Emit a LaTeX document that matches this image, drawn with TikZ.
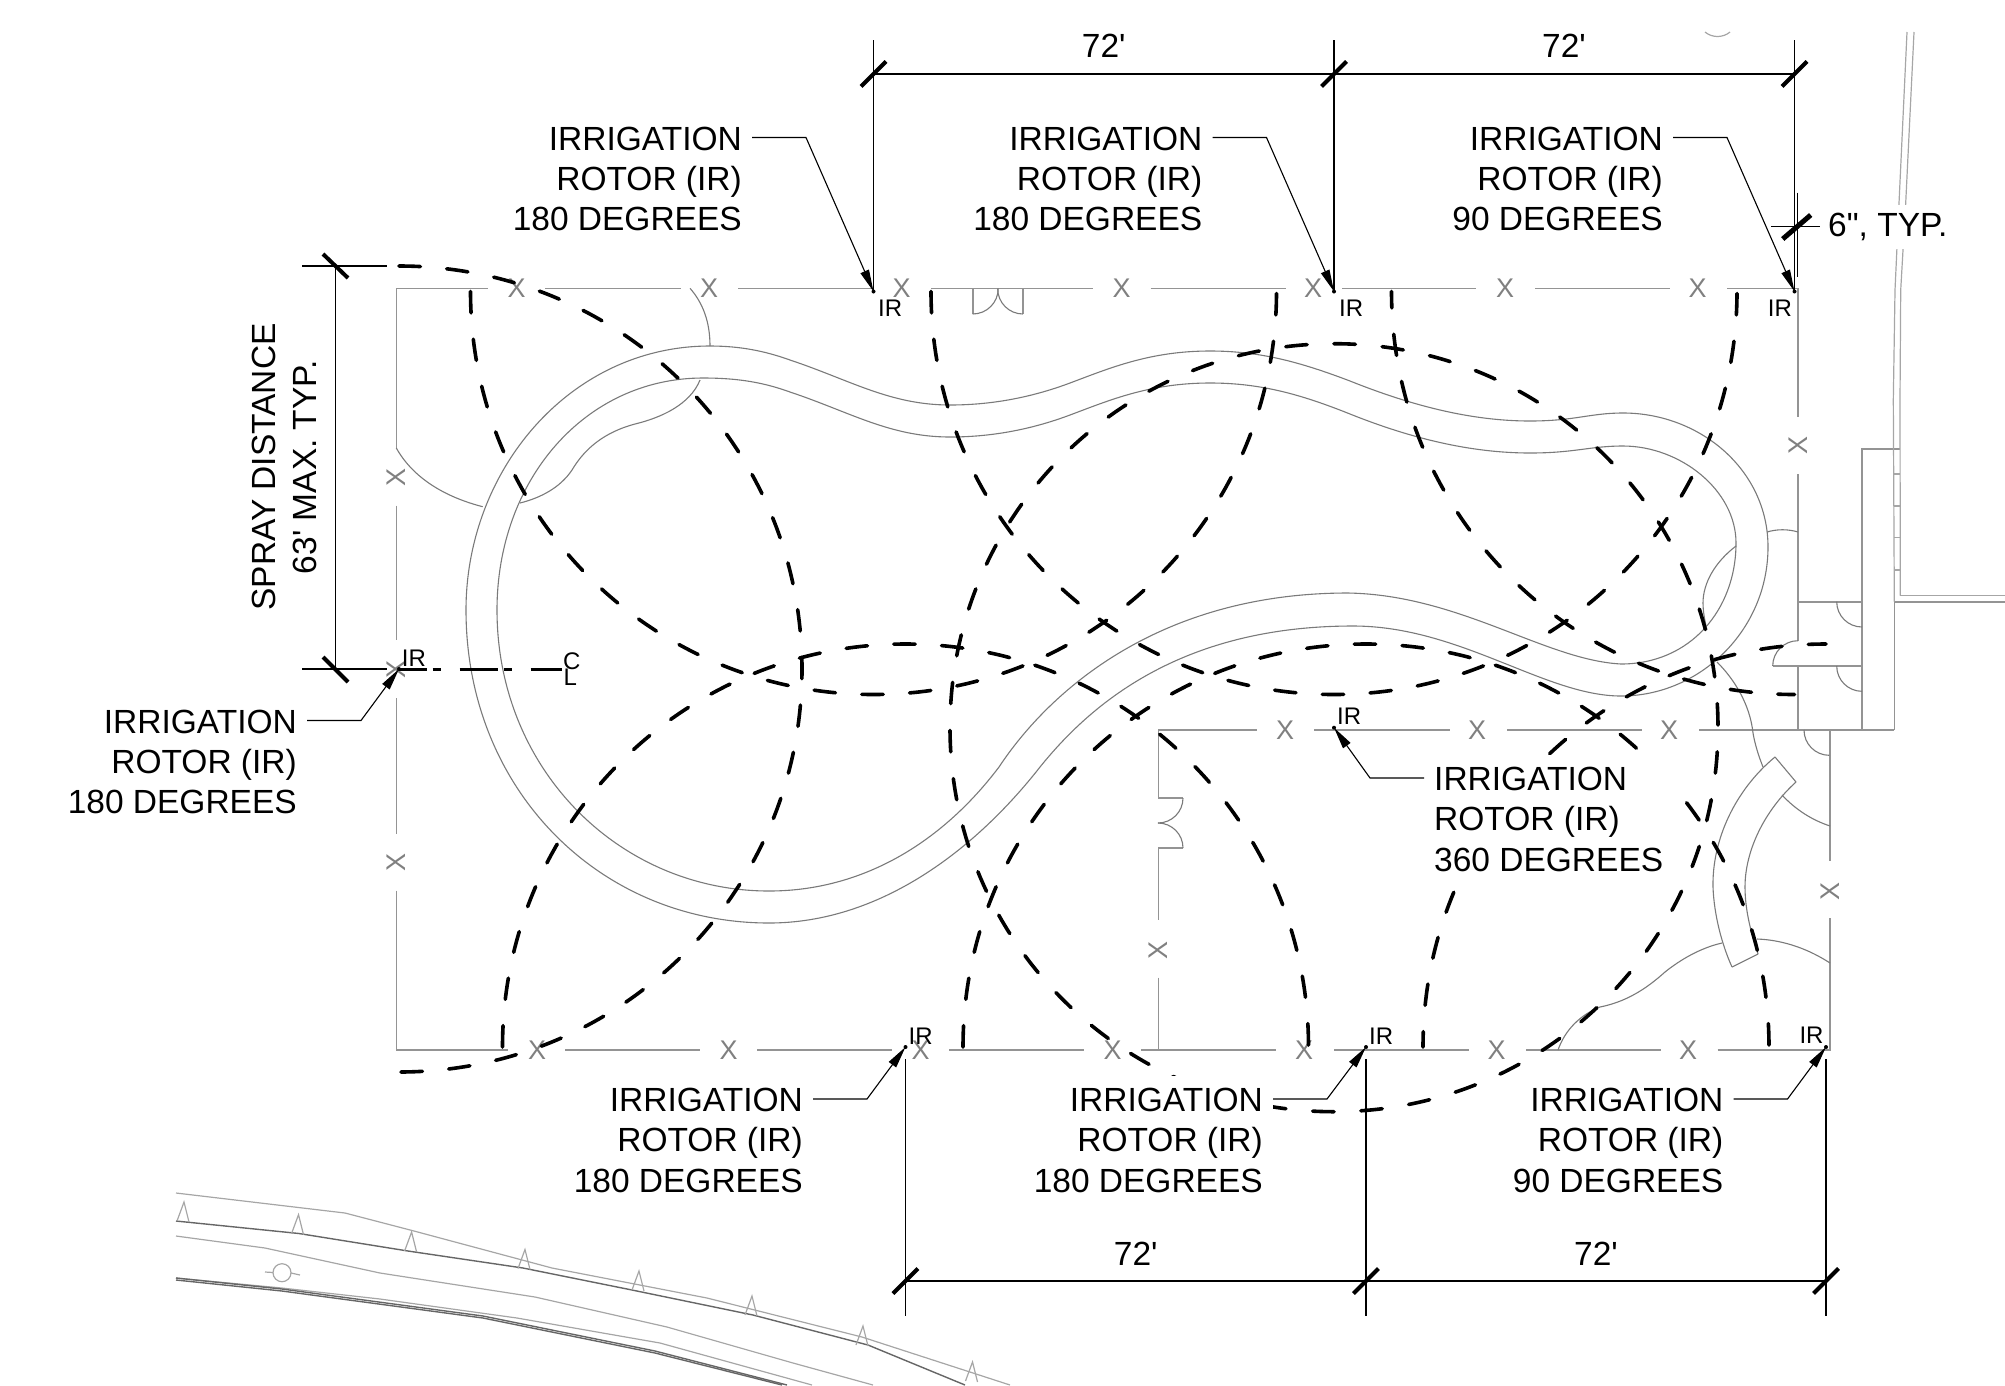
\documentclass[tikz,border=0pt]{standalone}
\usepackage{fontspec}
\setmainfont{Liberation Sans}
\usetikzlibrary{calc,arrows.meta}
\colorlet{colorWall}{black!42}
\colorlet{colorPool}{black!52}
\colorlet{colorRoad}{black!35}
\colorlet{colorFence}{black!50}
\newcommand{\lblfont}{\fontsize{33.5}{40.3}\selectfont}
\tikzset{
   every path/.style={>={Triangle[length=22pt,width=9pt]}},
   wall/.style={color=colorWall,line width=1.6pt},
   thinwall/.style={color=colorPool,line width=1.1pt},
   road/.style={color=colorRoad,line width=1.2pt},
   roaddark/.style={color=black!60,line width=1.4pt},
   fencex/.style={color=colorFence,font=\fontsize{27}{27}\selectfont,inner sep=0pt},
   fencey/.style={fencex,rotate=90},
   spray/.style={line width=3.6pt,line cap=round,dash pattern=on 21.4pt off 26.4pt},
   dimline/.style={line width=1.2pt},
   dimtick/.style={line width=4pt},
   irlabel/.style={font=\lblfont,align=right,fill=white,inner xsep=10pt,inner ysep=12pt,anchor=north east},
   irleader/.style={->,line width=1.1pt},
   irtag/.style={font=\fontsize{24}{24}\selectfont,inner sep=0pt,anchor=base west},
   dimtext/.style={font=\lblfont,inner sep=0pt,anchor=base},
}
\begin{document}
\begin{tikzpicture}[x=1pt,y=1pt,yscale=-1]
  \useasboundingbox (0,0) rectangle (2005,1385);

  \coordinate (irTopA) at (873.5,291.5);
  \coordinate (irTopB) at (1334,291.5);
  \coordinate (irTopC) at (1794.5,291.5);
  \coordinate (irLeft) at (399,669);
  \coordinate (irMid) at (1334,727.7);
  \coordinate (irBotA) at (905.5,1047);
  \coordinate (irBotB) at (1366,1047);
  \coordinate (irBotC) at (1826,1047);

  % site walls
  \draw[wall] (396.3,448) -- (396.3,288.3) -- (488,288.3);
  \draw[wall] (545,288.3) -- (681,288.3);
  \draw[wall] (738,288.3) -- (872,288.3);
  \draw[wall] (931,288.3) -- (1093,288.3);
  \draw[wall] (1150.7,288.3) -- (1285.7,288.3);
  \draw[wall] (1342,288.3) -- (1476,288.3);
  \draw[wall] (1535,288.3) -- (1670,288.3);
  \draw[wall] (1727,288.3) -- (1797.7,288.3) -- (1797.7,416.7);
  \draw[wall] (1797.7,474) -- (1797.7,640.7);
  \draw[wall] (1797.7,666) -- (1797.7,730);
  \draw[wall] (396.3,505.7) -- (396.3,640);
  \draw[wall] (396.3,698) -- (396.3,833.5);
  \draw[wall] (396.3,890.5) -- (396.3,1050) -- (508,1050);
  \draw[wall] (565,1050) -- (700,1050);
  \draw[wall] (757,1050) -- (892,1050);
  \draw[wall] (949,1050) -- (1084,1050);
  \draw[wall] (1141,1050) -- (1276,1050);
  \draw[wall] (1334,1050) -- (1469,1050);
  \draw[wall] (1526,1050) -- (1661,1050);
  \draw[wall] (1717.7,1050) -- (1830,1050) -- (1830,918);
  \draw[wall] (1830,860.7) -- (1830,730);
  \draw[wall] (1158.3,730) -- (1257,730);
  \draw[wall] (1314,730) -- (1450,730);
  \draw[wall] (1507,730) -- (1641.7,730);
  \draw[wall] (1699,730) -- (1894.3,730);
  \draw[wall] (1183,798) -- (1158.3,798) -- (1158.3,730);
  \draw[wall] (1183,848) -- (1158.3,848) -- (1158.3,920);
  \draw[wall] (1158.3,977.7) -- (1158.3,1050);
  \draw[wall] (972.7,288.3) -- (972.7,314);
  \draw[wall] (1023,288.3) -- (1023,314);

  % building at the right
  \draw[wall] (1862,730) -- (1862,448.7) -- (1900.3,448.7);
  \draw[wall] (1894.3,730) -- (1894.3,601.7) -- (2005,601.7);
  \draw[wall] (1798,601.7) -- (1862,601.7);
  \draw[wall] (1772.7,666) -- (1862,666);
  \draw[road] (1900.3,595.7) -- (2005,595.7);
  \foreach \sy in {474,506,537.7,570}
    \draw[road] (1894,\sy) -- (1900,\sy);
  \draw[road] plot coordinates {(1894.3,601.7) (1893.3,400) (1895,290) (1899,203)};
  \draw[road] plot coordinates {(1900.3,595.7) (1900,400) (1900.7,290) (1905.7,203)};
  \draw[road] (1899,203) -- (1907,32);
  \draw[road] (1905.7,203) -- (1914,32);
  \draw[road] (1705,32) .. controls (1712,38) and (1723,38) .. (1730,32);

  % door swings
  \draw[thinwall] (1836.7,601.7) arc[start angle=180,end angle=90,radius=25.3];
  \draw[thinwall] (1836.7,666) arc[start angle=180,end angle=90,radius=25.3];
  \draw[thinwall] (1772.7,666) arc[start angle=180,end angle=270,radius=25.3];
  \draw[thinwall] (1804,730) arc[start angle=180,end angle=90,radius=25.3];
  \draw[thinwall] (1183,798) arc[start angle=0,end angle=90,radius=25];
  \draw[thinwall] (1183,848) arc[start angle=0,end angle=-90,radius=25];
  \draw[thinwall] (972.7,314) arc[start angle=90,end angle=0,radius=25.5];
  \draw[thinwall] (1023,314) arc[start angle=90,end angle=180,radius=25.3];

  % pool
  \draw[thinwall] (710,346) .. controls (570,346) and (466,470) .. (466,610)
    .. controls (466,790) and (600,923) .. (769,923)
    .. controls (880,923) and (975,850) .. (1040,767)
    .. controls (1090,705) and (1180,626) .. (1353,626)
    .. controls (1460,626) and (1545,696) .. (1621,696)
    .. controls (1700,696) and (1768,630) .. (1768,547)
    .. controls (1768,470) and (1700,413) .. (1623,413)
    .. controls (1590,413) and (1575,421) .. (1530,421)
    .. controls (1470,421) and (1410,405) .. (1350,381)
    .. controls (1300,362) and (1260,351) .. (1210,351)
    .. controls (1150,351) and (1110,368) .. (1070,383)
    .. controls (1030,398) and (990,405) .. (950,405)
    .. controls (890,405) and (850,380) .. (790,360)
    .. controls (765,351) and (740,346) .. (710,346);
  \draw[thinwall] (703,378) .. controls (585,378) and (497,480) .. (497,610)
    .. controls (497,770) and (620,891) .. (769,891)
    .. controls (860,891) and (940,845) .. (999,767)
    .. controls (1050,690) and (1160,593) .. (1348,593)
    .. controls (1460,595) and (1545,660) .. (1621,664)
    .. controls (1690,664) and (1736,610) .. (1736,543)
    .. controls (1736,490) and (1680,446) .. (1623,446)
    .. controls (1590,446) and (1575,453) .. (1530,453)
    .. controls (1470,453) and (1410,438) .. (1350,414)
    .. controls (1300,394) and (1260,383) .. (1210,383)
    .. controls (1150,383) and (1110,400) .. (1070,415)
    .. controls (1030,430) and (990,437) .. (950,437)
    .. controls (890,437) and (850,412) .. (790,392)
    .. controls (765,383) and (740,378) .. (703,378);

  % planting beds and paths
  \draw[thinwall] (690,288.3) .. controls (703,303) and (710,322) .. (710,346);
  \draw[thinwall] (396.3,448) .. controls (413,478) and (445,497) .. (482.7,506.7);
  \draw[thinwall] (700,380) .. controls (690,405) and (660,418) .. (635,424)
    .. controls (605,432) and (585,448) .. (572,470)
    .. controls (560,488) and (540,498) .. (520,503);
  \draw[thinwall] (1767,532) .. controls (1777,529) and (1788,529) .. (1798,532);
  \draw[thinwall] (1736,546) .. controls (1715,562) and (1703,583) .. (1703,603) .. controls (1703,612) and (1705,622) .. (1707,630);
  \draw[thinwall] (1717,662) .. controls (1735,680) and (1750,705) .. (1753,733) .. controls (1755,745) and (1759,757) .. (1763,767);
  \draw[thinwall] (1775,757) -- (1796,782);
  \draw[thinwall] (1732,967) -- (1758,954);
  \draw[thinwall] (1775,757) .. controls (1735,790) and (1712,840) .. (1713,887) .. controls (1714,915) and (1722,945) .. (1732,967);
  \draw[thinwall] (1796,782) .. controls (1765,810) and (1745,850) .. (1745,887) .. controls (1745,910) and (1751,933) .. (1758,954);
  \draw[thinwall] (1782,795) .. controls (1796,810) and (1812,820) .. (1830,826);
  \draw[thinwall] (1757,939) .. controls (1785,940) and (1810,950) .. (1830,963);
  \draw[thinwall] (1722,943) .. controls (1700,948) and (1680,960) .. (1665,972)
    .. controls (1645,990) and (1625,1002) .. (1600,1007)
    .. controls (1580,1015) and (1565,1030) .. (1558,1050);

  % road at the bottom
  \draw[road] plot coordinates {(176,1193) (345,1213) (414,1231) (552,1268) (707,1298) (862,1337) (1010,1385)};
  \draw[roaddark] plot coordinates {(176,1221) (299,1233.5) (408,1251) (523,1268) (632,1290) (753,1315) (868,1345) (965,1385)};
  \draw[road] plot coordinates {(176,1236) (265,1248) (380,1273) (535,1297) (667,1327) (793,1363) (873,1385)};
  \draw[road] plot coordinates {(176,1278) (282,1288) (380,1299) (517,1318) (660,1343) (812,1385)};
  \draw[roaddark] plot coordinates {(176,1278) (282,1289) (483,1316) (655,1351) (787,1385)};
  \draw[roaddark] plot coordinates {(176,1280) (282,1291) (483,1318) (655,1353) (782,1385)};
  \foreach \tx/\ty in {183/1221,297.5/1233.7,410.6/1251,524/1268.5,638/1290,751/1315,862/1345,971.5/1381}
    \draw[road] (\tx-6,\ty) -- (\tx+1,\ty-19) -- (\tx+6,\ty+1);
  \draw[road] (282,1272.7) circle (9);
  \draw[road] (265,1272) -- (273,1272.5);
  \draw[road] (291,1273) -- (300,1275);

  % fence marks
  \foreach \px [count=\i] in {516.7,709,901.7,1121.7,1313,1505,1697.7}
    \node[fencex] (xtop\i) at (\px,288.3) {X};
  \foreach \px [count=\i] in {537,728.5,920.5,1112.7,1304,1496.7,1688}
    \node[fencex] (xbot\i) at (\px,1050) {X};
  \foreach \px [count=\i] in {1285,1477,1669}
    \node[fencex] (xmid\i) at (\px,730) {X};
  \node[fencey] (xleftA) at (396.3,477) {X};
  \node[fencey] (xleftB) at (396.3,669) {X};
  \node[fencey] (xleftC) at (396.3,862) {X};
  \node[fencey] (xright) at (1797.7,445.7) {X};
  \node[fencey] (xlow) at (1830,891.7) {X};
  \node[fencey] (xinner) at (1158.3,950) {X};

  % spray arcs
  \draw[spray] (irTopA) ++(180:403) arc[start angle=180,end angle=0,radius=403];
  \draw[spray] (irTopB) ++(180:403) arc[start angle=180,end angle=0,radius=403];
  \draw[spray,dash phase=5pt] (irTopC) ++(180:403) arc[start angle=180,end angle=90,radius=403];
  \draw[spray] (irLeft) ++(-90:403) arc[start angle=-90,end angle=90,radius=403];
  \draw[spray] (irBotA) ++(180:403) arc[start angle=180,end angle=360,radius=403];
  \draw[spray] (irBotB) ++(180:403) arc[start angle=180,end angle=360,radius=403];
  \draw[spray,dash phase=6pt] (irBotC) ++(180:403) arc[start angle=180,end angle=270,radius=403];
  \draw[spray,dash pattern=on 21.4pt off 26.86pt] (irMid) ++(-90:384) arc[start angle=-90,end angle=270,radius=384];

  % center line
  \draw[line width=3pt,dash pattern=on 38pt off 6pt on 8pt off 19pt,dash phase=10.3pt] (irLeft) -- (561.7,669);
  \node[irtag] (centerC) at (563,669) {C};
  \node[irtag] (centerL) at (563.5,685) {L};

  % dimensions
  \draw[dimline] (irTopA) -- (873.5,40);
  \draw[dimline] (irTopB) -- (1334,40);
  \draw[dimline] (irTopC) -- (1794.5,40);
  \draw[dimline] (873.5,74) -- (1794.5,74);
  \foreach \dx in {873.5,1334,1794.5}
    \draw[dimtick] (\dx-12.5,86.5) -- (\dx+12.5,61.5);
  \node[dimtext] (dimTopA) at (1103.7,57) {72\textquotesingle};
  \node[dimtext] (dimTopB) at (1564,57) {72\textquotesingle};

  \draw[dimline] (905.5,1059) -- (905.5,1316);
  \draw[dimline] (1366,1059) -- (1366,1316);
  \draw[dimline] (1826,1059) -- (1826,1316);
  \draw[dimline] (905.5,1281) -- (1826,1281);
  \foreach \dx in {905.5,1366,1826}
    \draw[dimtick] (\dx-12.5,1293.5) -- (\dx+12.5,1268.5);
  \node[dimtext] (dimBotA) at (1135.7,1265) {72\textquotesingle};
  \node[dimtext] (dimBotB) at (1596,1265) {72\textquotesingle};

  \draw[dimline] (302,266) -- (387,266);
  \draw[dimline] (302,669) -- (387,669);
  \draw[dimline] (335.7,266) -- (335.7,669);
  \draw[dimtick] (323,254) -- (348,278);
  \draw[dimtick] (323,657) -- (348,682);
  \node[font=\lblfont,align=center,rotate=90,inner sep=0pt] (dimSpray) at (284.5,467) {SPRAY DISTANCE\\63\textquotesingle{} MAX. TYP.};

  \draw[dimline] (1797.7,192.7) -- (1797.7,276.7);
  \draw[dimline] (1771,226.7) -- (1820,226.7);
  \draw[dimtick,line width=5pt] (1782.7,239) -- (1810.7,215);
  \node[font=\lblfont,fill=white,inner xsep=8pt,inner ysep=8pt,anchor=base west] (dimWall) at (1820,236.7) {6\textquotedbl, TYP.};

  % rotor labels
  \node[irlabel] (lblTopA) at (752,114.5) {IRRIGATION\\ROTOR (IR)\\180 DEGREES};
  \node[irlabel] (lblTopB) at (1212.5,114.5) {IRRIGATION\\ROTOR (IR)\\180 DEGREES};
  \node[irlabel] (lblTopC) at (1673,114.5) {IRRIGATION\\ROTOR (IR)\\90 DEGREES};
  \node[irlabel] (lblLeft) at (307,697.5) {IRRIGATION\\ROTOR (IR)\\180 DEGREES};
  \node[irlabel] (lblBotA) at (813,1076) {IRRIGATION\\ROTOR (IR)\\180 DEGREES};
  \node[irlabel] (lblBotB) at (1273,1076) {IRRIGATION\\ROTOR (IR)\\180 DEGREES};
  \node[irlabel] (lblBotC) at (1733.5,1076) {IRRIGATION\\ROTOR (IR)\\90 DEGREES};
  \node[irlabel,align=left,anchor=north west] (lblMid) at (1424,755) {IRRIGATION\\ROTOR (IR)\\360 DEGREES};

  \foreach \lb/\rt in {lblTopA/irTopA,lblTopB/irTopB,lblTopC/irTopC,lblLeft/irLeft,lblBotA/irBotA,lblBotB/irBotB,lblBotC/irBotC}
    \draw[irleader] ($(\lb.north east)+(0,23)$) -- ++(54,0) -- (\rt);
  \draw[irleader] ($(lblMid.north west)+(0,23)$) -- ++(-54,0) -- (irMid);
  \foreach \rt in {irTopA,irTopB,irTopC,irLeft,irMid,irBotA,irBotB,irBotC}
    \fill (\rt) circle (2);

  \node[irtag] (tagTopA) at (878,316.7) {IR};
  \node[irtag] (tagTopB) at (1339,316.7) {IR};
  \node[irtag] (tagTopC) at (1767.7,316.7) {IR};
  \node[irtag] (tagLeft) at (401.7,666) {IR};
  \node[irtag] (tagMid) at (1337,724) {IR};
  \node[irtag] (tagBotA) at (908.5,1044) {IR};
  \node[irtag] (tagBotB) at (1369,1044) {IR};
  \node[irtag] (tagBotC) at (1799.3,1043) {IR};
\end{tikzpicture}
\end{document}
